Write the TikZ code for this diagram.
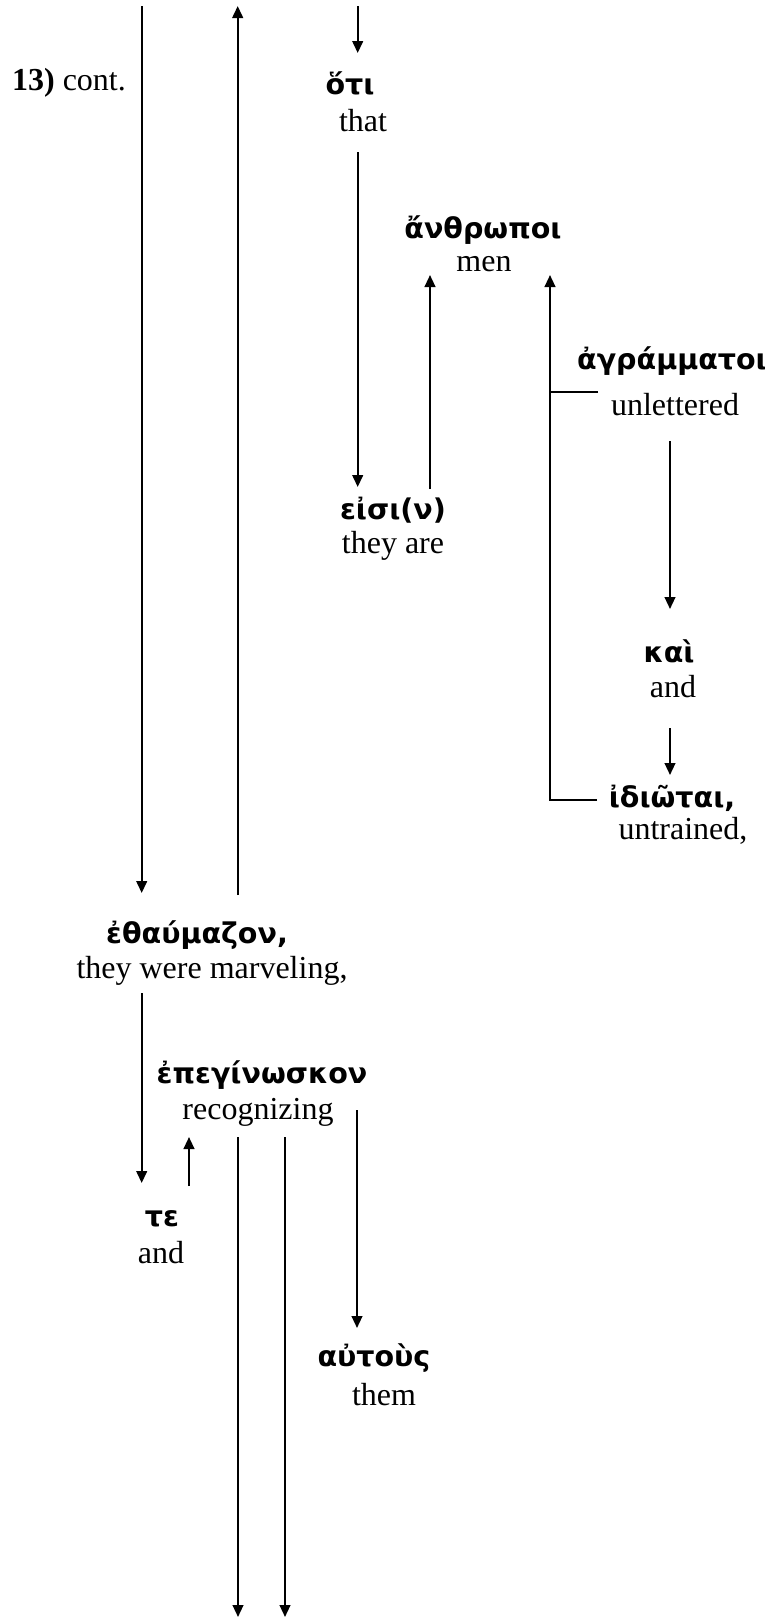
\documentclass[tikz,border=0pt]{standalone}
\usepackage{fontspec}
\setmainfont{Liberation Serif}
\newfontfamily\grkfont{DejaVu Sans}
\usetikzlibrary{arrows.meta}
\begin{document}
\begin{tikzpicture}[x=0.375pt,y=-0.375pt,
  gk/.style={inner sep=0pt,font=\grkfont\bfseries\fontsize{10.7}{12}\selectfont},
  en/.style={inner sep=0pt,font=\fontsize{12}{14}\selectfont},
  conn/.style={line width=0.8pt},
  arr/.style={conn,-{Triangle[length=4.5pt,width=4pt]}}]
\useasboundingbox (0,0) rectangle (765,1619);
% texts
\node[en] (label) at (69,83) {\textbf{13)} cont.};
\node[gk] (hoti) at (350,83) {ὅτι};
\node[en] (hotiE) at (363,121) {that};
\node[gk] (anthr) at (483,230) {ἄνθρωποι};
\node[en] (anthrE) at (484,264) {men};
\node[gk] (eisi) at (393,510) {εἰσι(ν)};
\node[en] (eisiE) at (393,546) {they are};
\node[gk] (agram) at (672,361) {ἀγράμματοι};
\node[en] (agramE) at (675,405) {unlettered};
\node[gk] (kai) at (669,651) {καὶ};
\node[en] (kaiE) at (673,687) {and};
\node[gk] (idiot) at (672,798) {ἰδιῶται,};
\node[en] (idiotE) at (683,831) {untrained,};
\node[gk] (ethau) at (197,935) {ἐθαύμαζον,};
\node[en] (ethauE) at (212,971) {they were marveling,};
\node[gk] (epeg) at (262,1075) {ἐπεγίνωσκον};
\node[en] (epegE) at (258,1112) {recognizing};
\node[gk] (te) at (162,1219) {τε};
\node[en] (teE) at (161,1253) {and};
\node[gk] (autous) at (374,1358) {αὐτοὺς};
\node[en] (autousE) at (384,1395) {them};
% connector end points
\coordinate (a1s) at (141.7,6);   \coordinate (a1e) at (141.7,893);
\coordinate (a2s) at (237.7,895); \coordinate (a2e) at (237.7,6);
\coordinate (a3s) at (357.7,6);   \coordinate (a3e) at (357.7,53);
\coordinate (a4s) at (357.7,152); \coordinate (a4e) at (357.7,487);
\coordinate (a5s) at (430,489);   \coordinate (a5e) at (430,275);
\coordinate (b1) at (598,392);    \coordinate (b1v) at (550,392);
\coordinate (b2) at (597,800);    \coordinate (b2v) at (550,800);
\coordinate (b3) at (550,275);
\coordinate (a7s) at (670,441);   \coordinate (a7e) at (670,609);
\coordinate (a8s) at (670,728);   \coordinate (a8e) at (670,775);
\coordinate (a9s) at (141.7,993); \coordinate (a9e) at (141.7,1183);
\coordinate (a10s) at (189,1186); \coordinate (a10e) at (189,1137);
\coordinate (a11s) at (238,1137); \coordinate (a11e) at (238,1617);
\coordinate (a12s) at (285,1137); \coordinate (a12e) at (285,1617);
\coordinate (a13s) at (357,1110); \coordinate (a13e) at (357,1328);
% connectors
\draw[arr] (a1s) -- (a1e);
\draw[arr] (a2s) -- (a2e);
\draw[arr] (a3s) -- (a3e);
\draw[arr] (a4s) -- (a4e);
\draw[arr] (a5s) -- (a5e);
\draw[conn] (b1) -- (b1v);
\draw[arr] (b2) -- (b2v) -- (b3);
\draw[arr] (a7s) -- (a7e);
\draw[arr] (a8s) -- (a8e);
\draw[arr] (a9s) -- (a9e);
\draw[arr] (a10s) -- (a10e);
\draw[arr] (a11s) -- (a11e);
\draw[arr] (a12s) -- (a12e);
\draw[arr] (a13s) -- (a13e);
\end{tikzpicture}
\end{document}
